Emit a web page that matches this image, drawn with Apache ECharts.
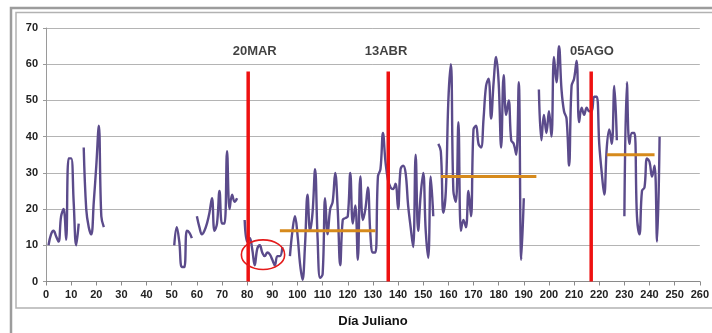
<!DOCTYPE html>
<html><head><meta charset="utf-8">
<script src="https://cdn.jsdelivr.net/npm/echarts@6/dist/echarts.min.js"></script>
<style>html,body{margin:0;padding:0;background:#fff}#c{width:712px;height:333px}</style>
</head><body><div id="c"></div>
<script>
// Daily values starting at day 1 (null = no data)
const startDay = 1;
const values = [
  10,13,14,12.5,11,18,20,11.5,34,34,22,10,16,
  null,
  37,20,15,13,22,32,43,18,15,
  null,null,null,null,null,null,null,null,null,null,null,null,null,null,null,null,null,null,null,null,null,null,null,null,null,null,null,
  10,15,11,4,4,14,13.5,12,
  null,
  18,15,13,14,16,19,23,14,16,25,16,16,36,20,24,22,23,
  null,null,
  17,11,12,9,4.5,9,10,8,7,8,7.5,6,4.5,7,7,9.5,
  null,null,
  7,14,18,13,5,0.5,10,24,14,19,31,12,1,2,23,13,20,22,30,20,4.5,17,17.5,18,30,16,21,6,29,17,20,26,13,8,8,29,31,41,33,28,26,25.5,27,20,31,32,30,21,15,9.5,35,14,24,30,14,6.5,29,18,
  null,
  38,36,19,25,50,60,25,22,44,14,17,15,25,18,42,43,38,37,45,54,56,45,55,62,55,37,57,46,50,39,38,35,55,6,23,
  null,null,null,null,null,
  53,39,46,41,47,40,62,55,65,53,47,45,32,54,56,61,44,48,46,48,47,47,51,51,38,30,24,37,42,38,54,39,
  null,null,
  18,55,38,41,41,18,13,25,26,34,33,29,32,11,40
];
const eventDays = [80.4, 136.1, 216.8];
const eventLabels = ['20MAR', '13ABR', '05AGO'];
const eventLabelDays = [83, 135.2, 217.1];
const eventTop = 58;
const eventLabelValue = 63.6;
const meanSegments = [[93, 131, 14], [157, 195, 29], [223, 242, 35]];
const circleCenter = [86.3, 7.4];
const circleRadius = [8.6, 4.1];

const lineData = values.map((v, i) => [startDay + i, v === null ? '-' : v]);

const chart = echarts.init(document.getElementById('c'), null, {renderer: 'canvas'});
const font = 'Arial, "Liberation Sans", sans-serif';

const series = [{
  type: 'line',
  data: lineData,
  smooth: 0.4,
  connectNulls: false,
  symbol: 'none',
  lineStyle: {color: '#5b4b8b', width: 2.4},
  z: 2
}];
meanSegments.forEach(s => {
  series.push({
    type: 'line', data: [[s[0], s[2]], [s[1], s[2]]], symbol: 'none',
    lineStyle: {color: '#d68a1c', width: 3}, z: 3, silent: true
  });
});
eventDays.forEach(d => {
  series.push({
    type: 'line', data: [[d, 0], [d, eventTop]], symbol: 'none',
    lineStyle: {color: '#ee1111', width: 3.5}, z: 4, silent: true
  });
});
series.push({
  type: 'scatter', symbolSize: 0, silent: true, z: 5,
  data: eventLabels.map((t, i) => ({value: [eventLabelDays[i], eventLabelValue], name: t})),
  label: {show: true, position: 'inside', formatter: p => p.name,
    fontFamily: font, fontWeight: 'bold', fontSize: 13, color: '#111'}
});

chart.setOption({
  animation: false,
  backgroundColor: '#fff',
  grid: {left: 46, right: 12, top: 28, bottom: 51, containLabel: false},
  xAxis: {
    type: 'value', min: 0, max: 260, interval: 10,
    name: 'Día Juliano', nameLocation: 'middle', nameGap: 40,
    nameTextStyle: {fontFamily: font, fontWeight: 'bold', fontSize: 13, color: '#111', verticalAlign: 'middle'},
    axisLine: {show: true, lineStyle: {color: '#8a8a8a', width: 1}},
    axisTick: {show: true, length: 4, lineStyle: {color: '#8a8a8a'}},
    axisLabel: {fontFamily: font, fontWeight: 'bold', fontSize: 11, color: '#222', margin: 8},
    splitLine: {show: false}
  },
  yAxis: {
    type: 'value', min: 0, max: 70, interval: 10,
    axisLine: {show: true, lineStyle: {color: '#9a9a9a', width: 1}},
    axisTick: {show: true, length: 3, lineStyle: {color: '#9a9a9a'}},
    axisLabel: {fontFamily: font, fontWeight: 'bold', fontSize: 11, color: '#222', margin: 8},
    splitLine: {show: true, lineStyle: {color: '#b4b4b4', width: 1}}
  },
  series: series
});

const c = chart.convertToPixel({gridIndex: 0}, circleCenter);
const e = chart.convertToPixel({gridIndex: 0}, [circleCenter[0] + circleRadius[0], circleCenter[1] + circleRadius[1]]);
chart.setOption({
  graphic: [
    {type: 'rect', shape: {x: 11, y: 8, width: 730, height: 360}, style: {fill: 'none', stroke: '#9c9c9c', lineWidth: 2.5}, silent: true},
    {type: 'rect', shape: {x: 16, y: 12.5, width: 730, height: 295.5}, style: {fill: 'none', stroke: '#b2b2b2', lineWidth: 1.5}, silent: true},
    {type: 'ellipse', shape: {cx: c[0], cy: c[1], rx: Math.abs(e[0] - c[0]), ry: Math.abs(e[1] - c[1])},
      style: {fill: 'none', stroke: '#e41b1b', lineWidth: 1.6}, z: 10, silent: true}
  ]
});
</script></body></html>
